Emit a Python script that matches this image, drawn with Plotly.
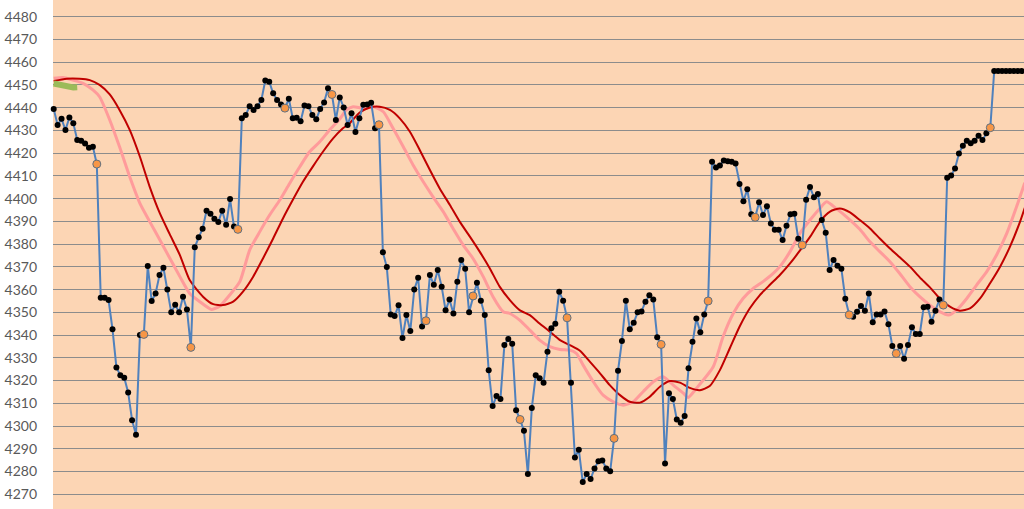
import plotly.graph_objects as go

# ---- main price series (one value per bar) ----
close = [
    4439.4, 4432.4, 4435.1, 4430.2, 4435.7, 4433.2, 4425.8, 4425.5, 4424.3, 4422.4,
    4422.8, 4415.2, 4356.4, 4356.4, 4355.4, 4342.6, 4325.8, 4322.4, 4321.3, 4314.8,
    4302.6, 4296.2, 4340.0, 4340.3, 4370.4, 4355.0, 4358.3, 4366.4, 4369.6, 4360.0,
    4350.0, 4353.4, 4350.0, 4356.9, 4351.3, 4334.6, 4378.6, 4383.0, 4386.8, 4394.7,
    4393.4, 4391.2, 4389.7, 4394.7, 4388.5, 4399.8, 4387.7, 4386.5, 4435.4, 4436.8,
    4440.6, 4439.0, 4440.6, 4443.4, 4452.0, 4451.4, 4446.3, 4443.4, 4441.4, 4439.8,
    4443.9, 4435.4, 4435.6, 4434.0, 4441.0, 4440.6, 4436.8, 4434.9, 4439.4, 4442.3,
    4448.5, 4445.8, 4434.6, 4444.5, 4440.1, 4432.4, 4437.5, 4429.3, 4435.4, 4441.3,
    4441.4, 4442.2, 4431.0, 4432.5, 4376.4, 4369.9, 4349.1, 4348.4, 4353.1, 4338.7,
    4348.8, 4341.8, 4360.0, 4365.2, 4343.8, 4346.3, 4366.4, 4362.1, 4368.6, 4361.3,
    4350.9, 4355.6, 4349.5, 4363.5, 4373.0, 4369.2, 4350.0, 4357.2, 4363.0, 4355.1,
    4348.8, 4324.5, 4308.8, 4313.2, 4311.9, 4335.6, 4338.3, 4336.2, 4307.0, 4302.9,
    4297.9, 4278.9, 4307.9, 4322.3, 4321.0, 4319.1, 4332.7, 4343.0, 4345.0, 4359.1,
    4355.1, 4347.6, 4319.1, 4286.2, 4289.6, 4275.4, 4278.9, 4276.7, 4281.4, 4284.5,
    4284.9, 4281.4, 4280.1, 4294.6, 4324.3, 4337.4, 4355.1, 4342.6, 4345.4, 4350.0,
    4350.4, 4354.7, 4357.5, 4355.6, 4339.1, 4335.9, 4283.6, 4314.4, 4311.9, 4302.9,
    4301.5, 4304.4, 4325.4, 4337.1, 4347.3, 4341.3, 4349.1, 4355.0, 4416.2, 4413.7,
    4414.6, 4416.8, 4416.4, 4416.2, 4415.4, 4406.4, 4398.9, 4404.1, 4393.1, 4391.8,
    4398.4, 4392.8, 4396.7, 4389.1, 4386.3, 4386.3, 4381.8, 4388.1, 4393.1, 4393.4,
    4382.4, 4379.6, 4399.5, 4405.1, 4400.6, 4402.0, 4390.6, 4385.0, 4368.6, 4373.0,
    4370.5, 4369.2, 4356.0, 4348.9, 4348.1, 4350.3, 4352.8, 4350.7, 4358.3, 4345.6,
    4349.1, 4349.1, 4350.4, 4344.8, 4335.2, 4331.9, 4335.2, 4329.6, 4335.6, 4343.4,
    4340.5, 4340.5, 4352.2, 4352.5, 4345.9, 4350.7, 4355.6, 4353.2, 4409.2, 4410.2,
    4413.3, 4419.8, 4423.3, 4425.5, 4424.4, 4425.5, 4427.7, 4425.8, 4428.7, 4431.2,
    4456.1, 4456.1, 4456.1, 4456.1, 4456.1, 4456.1, 4456.1, 4456.1,
]
bars = list(range(len(close)))

# every 12th bar is highlighted (hourly close)
HOUR = 12
hour_bars = [i for i in bars if (i + 1) % HOUR == 0 and i < 240]
hour_vals = [close[i] for i in hour_bars]

# ---- slow average (dark red) ----
red_x = [0, 3.3, 6.6, 9.2, 11.7, 14.3, 16.8, 19.4, 22.0, 24.5, 27.1, 29.6, 32.2, 34.7,
         38.1, 40.7, 43.2, 45.8, 48.3, 50.9, 53.4, 56.0, 58.5, 61.1, 63.6, 66.2, 68.7,
         71.3, 73.8, 75.6, 78.1, 80.7, 83.2, 85.8, 88.3, 90.9, 93.4, 96.0, 98.5, 101.1,
         103.6, 106.2, 108.7, 111.3, 113.8, 116.4, 118.9, 121.5, 124.0, 126.6, 129.2,
         131.7, 134.3, 136.8, 139.4, 141.9, 144.5, 147.0, 149.6, 152.1, 154.7, 157.2,
         159.8, 162.3, 164.9, 167.4, 170.0, 172.5, 175.1, 177.6, 180.2, 182.7, 185.3,
         187.9, 190.4, 193.0, 195.5, 198.1, 200.6, 203.2, 205.7, 208.3, 210.8, 213.4,
         215.9, 218.5, 221.0, 223.6, 226.1, 228.7, 231.2, 233.8, 236.4, 238.9, 241.5,
         244.0, 246.6, 247.8]
red_y = [4451.7, 4452.7, 4452.7, 4452.1, 4450.0, 4445.8, 4439.0, 4430.2, 4418.4, 4405.2,
         4393.5, 4384.4, 4375.2, 4364.2, 4356.9, 4353.6, 4353.2, 4354.7, 4359.1, 4365.7,
         4373.7, 4382.5, 4391.3, 4399.7, 4407.4, 4414.3, 4420.6, 4426.5, 4430.9, 4433.3,
         4437.9, 4440.1, 4440.4, 4439.0, 4435.3, 4429.4, 4421.4, 4412.6, 4404.5, 4397.2,
         4389.9, 4383.3, 4376.7, 4369.3, 4361.3, 4355.4, 4351.0, 4348.8, 4345.1, 4341.5,
         4337.8, 4335.6, 4333.1, 4328.3, 4323.2, 4318.0, 4313.6, 4310.7, 4310.3, 4312.9,
         4317.3, 4319.8, 4319.1, 4316.8, 4315.8, 4317.6, 4324.6, 4334.1, 4344.0, 4351.7,
         4357.6, 4362.0, 4366.4, 4371.5, 4377.1, 4383.2, 4389.9, 4394.3, 4395.7, 4394.0,
         4390.6, 4386.9, 4382.5, 4378.1, 4374.2, 4370.1, 4365.4, 4361.0, 4356.1, 4352.5,
         4350.7, 4351.7, 4356.1, 4362.7, 4370.1, 4378.8, 4389.9, 4396.0]

# ---- fast average (pink) ----
pink_x = [0, 2.4, 4.9, 7.5, 10.0, 11.7, 14.3, 16.8, 19.4, 22.0, 24.5, 27.1, 29.6, 32.2,
          34.7, 37.3, 40.3, 42.4, 44.9, 47.5, 50.0, 52.6, 55.1, 57.7, 60.2, 62.8, 65.3,
          67.9, 70.4, 73.0, 74.7, 76.4, 78.9, 81.5, 84.1, 86.6, 89.2, 91.7, 94.3, 96.8,
          99.4, 101.9, 104.5, 107.0, 109.6, 112.1, 114.7, 116.4, 118.9, 121.5, 124.0,
          126.6, 129.2, 131.7, 133.4, 135.1, 137.7, 140.2, 142.8, 145.3, 147.9, 150.4,
          153.0, 155.5, 158.1, 160.6, 161.9, 164.0, 168.3, 170.8, 173.4, 175.9, 178.5,
          181.0, 183.6, 185.3, 187.9, 190.4, 193.0, 195.5, 197.2, 199.8, 202.3, 205.7,
          208.3, 210.8, 213.4, 215.9, 218.5, 221.0, 223.6, 226.1, 228.3, 230.4, 233.0,
          235.5, 238.1, 240.6, 243.2, 245.7, 247.8]
pink_y = [4452.9, 4453.3, 4452.1, 4450.7, 4447.8, 4444.8, 4434.6, 4422.8, 4409.6, 4397.9,
          4389.9, 4381.8, 4373.9, 4365.7, 4358.3, 4354.7, 4351.3, 4352.8, 4357.6, 4363.5,
          4377.4, 4385.5, 4392.8, 4399.4, 4406.7, 4414.0, 4420.6, 4425.0, 4430.2, 4435.0,
          4439.0, 4440.4, 4439.7, 4440.4, 4438.2, 4430.9, 4422.8, 4414.8, 4407.4, 4400.8,
          4394.3, 4386.9, 4379.6, 4373.7, 4365.7, 4356.9, 4350.3, 4349.5, 4346.6, 4342.2,
          4337.8, 4334.9, 4333.7, 4333.4, 4331.9, 4326.8, 4319.5, 4313.6, 4310.7, 4309.2,
          4310.7, 4315.1, 4319.5, 4321.7, 4318.0, 4314.6, 4312.6, 4316.6, 4326.1, 4339.3,
          4349.5, 4356.1, 4360.5, 4363.5, 4367.1, 4370.1, 4376.7, 4384.7, 4390.6, 4395.7,
          4398.6, 4395.5, 4392.0, 4386.5, 4381.0, 4376.7, 4372.3, 4367.1, 4361.3, 4356.9,
          4353.2, 4350.3, 4348.8, 4351.0, 4356.1, 4362.0, 4367.9, 4375.2, 4384.7, 4396.4,
          4407.0]

# ---- short green segment at top-left ----
green_x = [0, 1, 2, 3, 4, 5, 6]
green_y = [4450.6, 4450.3, 4450.0, 4449.3, 4448.9, 4448.9, 4449.0]

y_ticks = list(range(4270, 4490, 10))

fig = go.Figure()
fig.add_trace(go.Scatter(x=pink_x, y=pink_y, mode="lines",
                         line=dict(color="#FF9B9B", width=3, shape="spline", smoothing=0.6),
                         hoverinfo="skip"))
fig.add_trace(go.Scatter(x=red_x, y=red_y, mode="lines",
                         line=dict(color="#C00000", width=2, shape="spline", smoothing=0.6),
                         hoverinfo="skip"))
fig.add_trace(go.Scatter(x=green_x, y=green_y, mode="lines",
                         line=dict(color="#9BBB59", width=6)))
fig.add_trace(go.Scatter(x=bars, y=close, mode="lines+markers",
                         line=dict(color="#4F81BD", width=2),
                         marker=dict(color="black", size=6, line=dict(width=0)),
                         cliponaxis=False))
fig.add_trace(go.Scatter(x=hour_bars, y=hour_vals, mode="markers",
                         marker=dict(color="#F79646", size=8,
                                     line=dict(color="#5F6F80", width=1)),
                         cliponaxis=False))

fig.update_layout(
    width=1024, height=509,
    margin=dict(l=53, r=0, t=0, b=0),
    paper_bgcolor="white",
    plot_bgcolor="#FCD5B4",
    showlegend=False,
    xaxis=dict(range=[-0.18, 247.6], visible=False, showgrid=False, zeroline=False),
    yaxis=dict(range=[4263.54, 4487.34], tickvals=y_ticks,
               ticktext=[str(v) for v in y_ticks],
               showgrid=True, gridcolor="#8C8C8C", gridwidth=1,
               zeroline=False, showline=False,
               tickfont=dict(family="Lato, Liberation Sans, sans-serif", size=14, color="#595959"),
               ticklabelstandoff=15),
)

fig.write_html("out.html",
               config={"displayModeBar": False},
               post_script="document.body.style.margin='0px';document.body.style.overflow='hidden';")
